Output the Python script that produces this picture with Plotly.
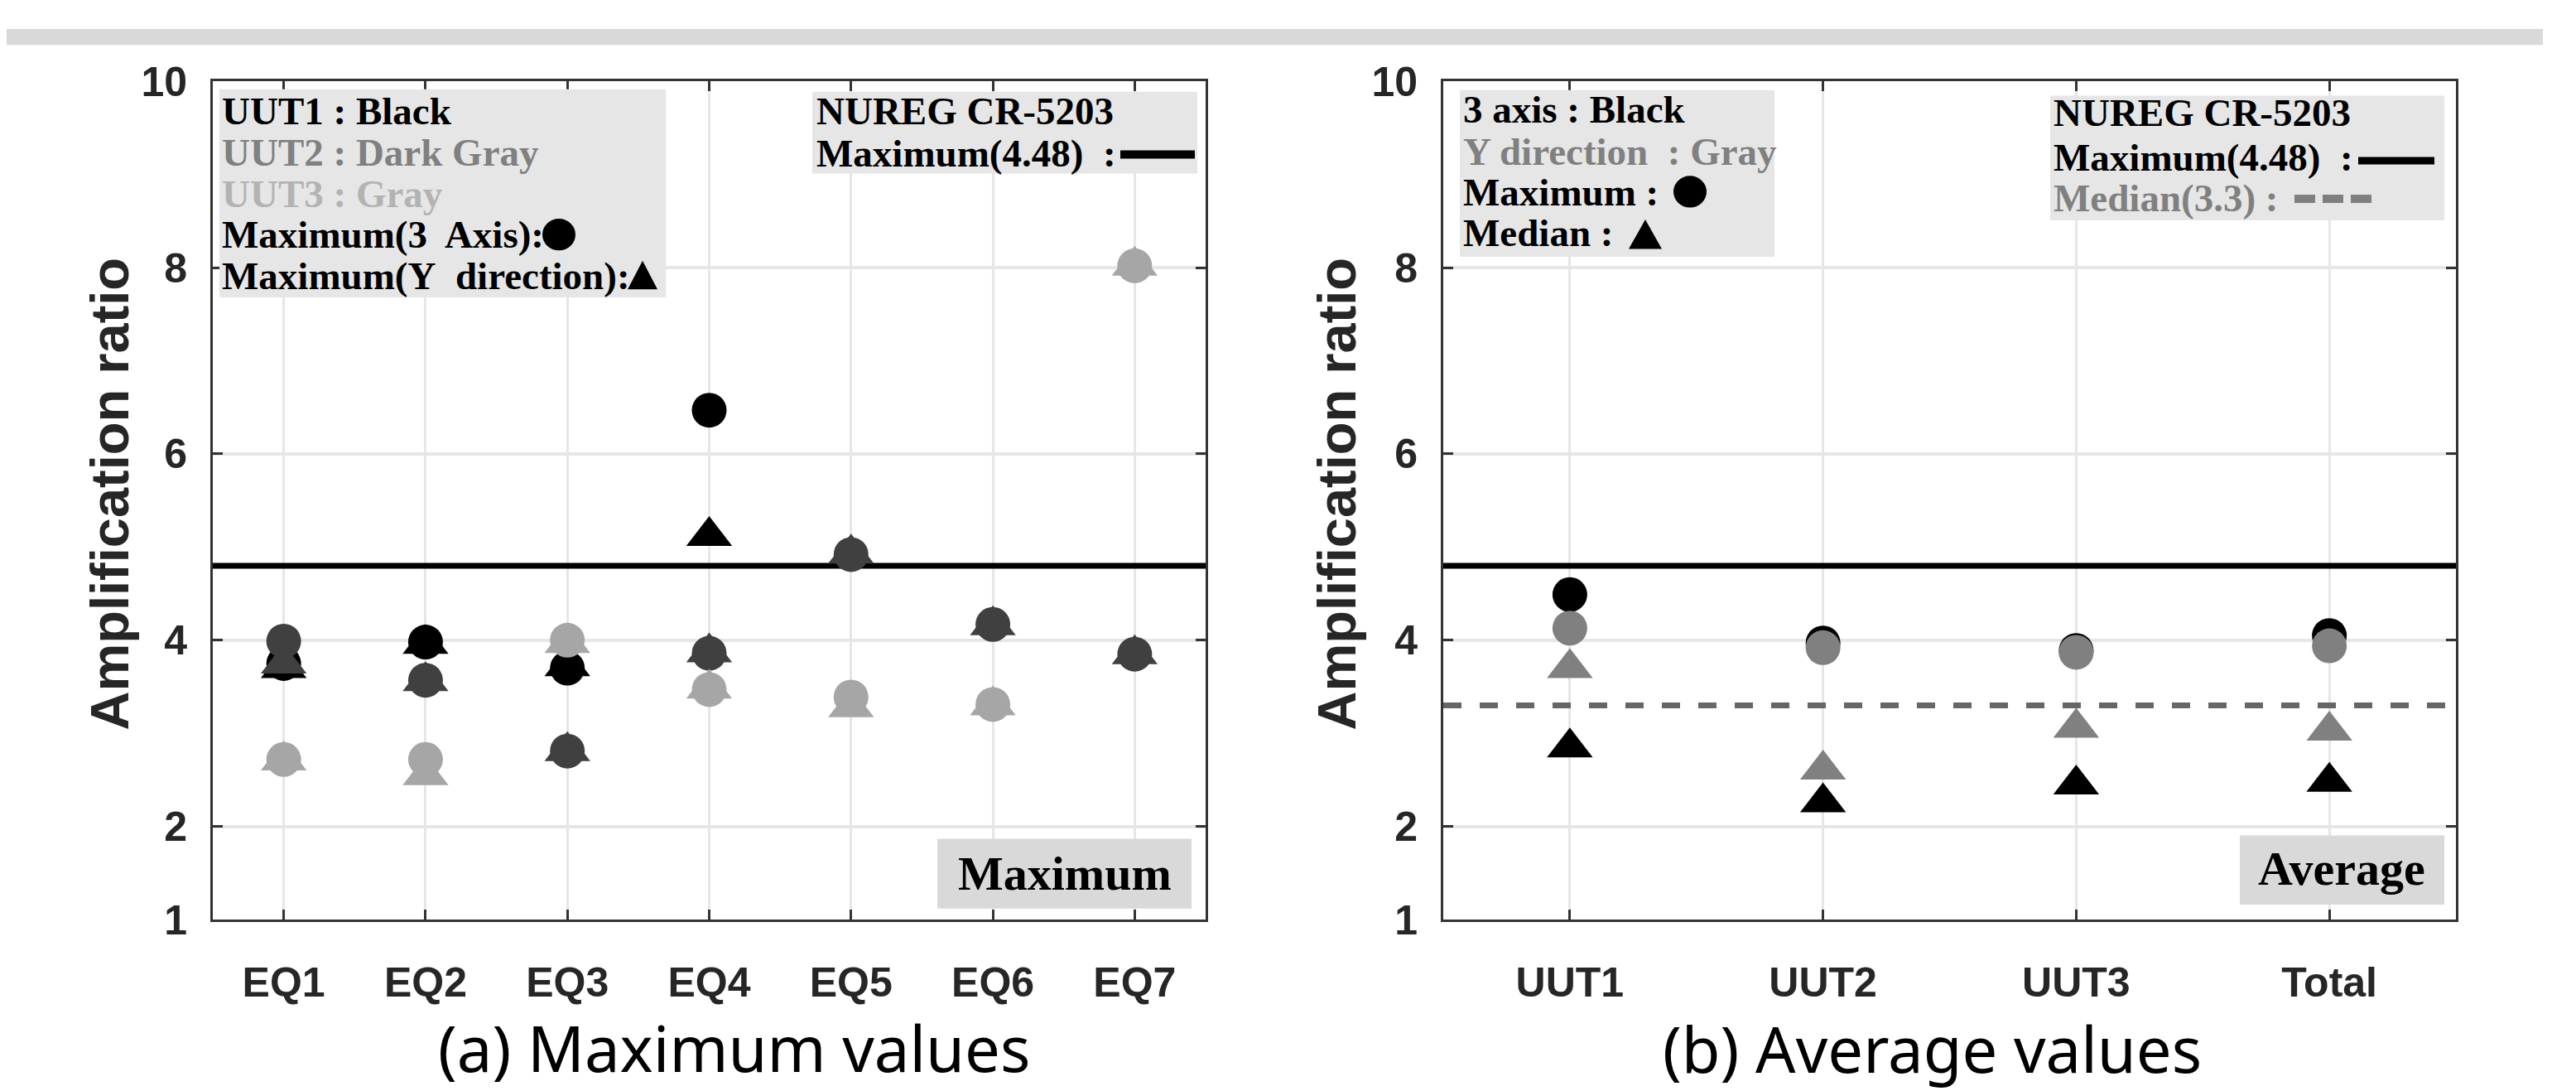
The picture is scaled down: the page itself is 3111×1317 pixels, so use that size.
import plotly.graph_objects as go

W, H = 3111, 1317

# ---------------- data ----------------
eq_labels = ["EQ1", "EQ2", "EQ3", "EQ4", "EQ5", "EQ6", "EQ7"]
# Maximum (3 axis) -> circles, Maximum (Y direction) -> triangles
uut1_max3 = [3.75, 3.98, 3.70, 6.47, None, None, None]
uut1_maxy = [3.70, 3.96, 3.72, 5.12, None, None, None]
uut2_max3 = [3.99, 3.57, 2.81, 3.86, 4.92, 4.17, 3.85]
uut2_maxy = [3.75, 3.56, 2.81, 3.87, 4.93, 4.16, 3.85]
uut3_max3 = [2.72, 2.72, 4.00, 3.47, 3.39, 3.31, 8.02]
uut3_maxy = [2.71, 2.55, 3.97, 3.48, 3.28, 3.30, 8.02]

avg_labels = ["UUT1", "UUT2", "UUT3", "Total"]
avg3_max = [4.49, 3.97, 3.89, 4.05]      # 3 axis, maximum (black circle)
avg3_med = [2.85, 2.26, 2.45, 2.48]      # 3 axis, median (black triangle)
avgy_max = [4.13, 3.92, 3.87, 3.94]      # Y direction, maximum (gray circle)
avgy_med = [3.70, 2.61, 3.06, 3.03]      # Y direction, median (gray triangle)

nureg_max_line = 4.80
nureg_median_line = 3.30
y_ticks = [1, 2, 4, 6, 8, 10]

# ---------------- helpers ----------------
def fx(p):
    return p / W

def fy(p):
    return 1 - p / H

BLACK = "#000000"
DGRAY = "#404040"
LGRAY = "#a6a6a6"
MGRAY = "#808080"

fig = go.Figure()

xa = list(range(1, len(eq_labels) + 1))
xb = list(range(1, len(avg_labels) + 1))

# reference lines (left)
fig.add_trace(go.Scatter(x=[0.5, len(eq_labels) + 0.5], y=[nureg_max_line] * 2, mode="lines",
                         line=dict(color=BLACK, width=7), xaxis="x", yaxis="y", showlegend=False))

CS, TS = 42, 48
def add_pts(x, y, color, sym, size, xaxis, yaxis):
    fig.add_trace(go.Scatter(x=x, y=y, mode="markers", xaxis=xaxis, yaxis=yaxis, showlegend=False,
                             marker=dict(color=color, symbol=sym, size=size, line=dict(width=0))))

add_pts(xa, uut1_max3, BLACK, "circle", CS, "x", "y")
add_pts(xa, uut1_maxy, BLACK, "triangle-up", TS, "x", "y")
add_pts(xa, uut2_max3, DGRAY, "circle", CS, "x", "y")
add_pts(xa, uut2_maxy, DGRAY, "triangle-up", TS, "x", "y")
add_pts(xa, uut3_max3, LGRAY, "circle", CS, "x", "y")
add_pts(xa, uut3_maxy, LGRAY, "triangle-up", TS, "x", "y")

# reference lines (right)
fig.add_trace(go.Scatter(x=[0.5, len(avg_labels) + 0.5], y=[nureg_max_line] * 2, mode="lines",
                         line=dict(color=BLACK, width=7), xaxis="x2", yaxis="y2", showlegend=False))
fig.add_trace(go.Scatter(x=[0.5, len(avg_labels) + 0.5], y=[nureg_median_line] * 2, mode="lines",
                         line=dict(color="#666666", width=7, dash="22px,22px"),
                         xaxis="x2", yaxis="y2", showlegend=False))

add_pts(xb, avg3_max, BLACK, "circle", CS, "x2", "y2")
add_pts(xb, avgy_max, MGRAY, "circle", CS, "x2", "y2")
add_pts(xb, avg3_med, BLACK, "triangle-up", TS, "x2", "y2")
add_pts(xb, avgy_med, MGRAY, "triangle-up", TS, "x2", "y2")

tickfont = dict(family="Liberation Sans, Arial", size=50, color="#262626", weight="bold")
common_x = dict(showline=True, linecolor="#333333", linewidth=3, mirror="ticks",
                ticks="inside", ticklen=12, tickwidth=3, tickcolor="#333333",
                showgrid=True, gridcolor="#e6e6e6", gridwidth=3, zeroline=False,
                tickfont=tickfont, ticklabelstandoff=30)
common_y = dict(showline=True, linecolor="#333333", linewidth=3, mirror="ticks",
                ticks="inside", ticklen=12, tickwidth=3, tickcolor="#333333",
                showgrid=True, gridcolor="#e6e6e6", gridwidth=4, zeroline=False,
                tickfont=tickfont, range=[1, 10], tickvals=y_ticks,
                ticktext=[str(t) for t in y_ticks], ticklabelstandoff=18)

ytop, ybot = fy(66), fy(1122)
fig.update_layout(
    width=W, height=H, margin=dict(l=0, r=0, t=0, b=0),
    paper_bgcolor="white", plot_bgcolor="white", showlegend=False,
    xaxis=dict(domain=[fx(249), fx(1448)], range=[0.5, len(eq_labels) + 0.5],
               tickvals=xa, ticktext=eq_labels, anchor="y", **common_x),
    yaxis=dict(domain=[ybot, ytop], anchor="x", **common_y),
    xaxis2=dict(domain=[fx(1735), fx(2958)], range=[0.5, len(avg_labels) + 0.5],
                tickvals=xb, ticktext=avg_labels, anchor="y2", **common_x),
    yaxis2=dict(domain=[ybot, ytop], anchor="x2", **common_y),
)

shapes = []
anns = []

def rect(x0, y0, x1, y1, color):
    shapes.append(dict(type="rect", xref="paper", yref="paper", x0=fx(x0), x1=fx(x1),
                       y0=fy(y1), y1=fy(y0), fillcolor=color, line=dict(width=0), layer="above"))

def text(x, y, s, size=47, color="#000000", family="Liberation Serif, Times New Roman",
         xanchor="left", bold=True):
    anns.append(dict(xref="paper", yref="paper", x=fx(x), y=fy(y), text=("<b>%s</b>" % s) if bold else s,
                     showarrow=False, xanchor=xanchor, yanchor="middle",
                     font=dict(family=family, size=size, color=color)))

def circ(cx, cy, d):
    shapes.append(dict(type="circle", xref="paper", yref="paper", x0=fx(cx - d / 2), x1=fx(cx + d / 2),
                       y0=fy(cy + d / 2), y1=fy(cy - d / 2), fillcolor="#000000", line=dict(width=0),
                       layer="above"))

def tri(cx, ytip, ybase, w):
    p = "M %f %f L %f %f L %f %f Z" % (fx(cx), fy(ytip), fx(cx - w / 2), fy(ybase), fx(cx + w / 2), fy(ybase))
    shapes.append(dict(type="path", xref="paper", yref="paper", path=p, fillcolor="#000000",
                       line=dict(width=0), layer="above"))

def hline(x0, x1, y, color, width, dash="solid"):
    shapes.append(dict(type="line", xref="paper", yref="paper", x0=fx(x0), x1=fx(x1), y0=fy(y), y1=fy(y),
                       line=dict(color=color, width=width, dash=dash), layer="above"))

# top band
rect(0, 0, 3063, 20, "#d9d9d9")

# ----- left panel legend boxes -----
rect(257, 76, 796, 338, "#e6e6e6")
text(258, 103, "UUT1 : Black")
text(258, 156, "UUT2 : Dark Gray", color="#808080")
text(258, 208, "UUT3 : Gray", color="#b3b3b3")
text(258, 259, "Maximum(3\u00a0 Axis):")
text(258, 311, "Maximum(Y\u00a0 direction):")
circ(667, 259, 40)
tri(768, 292, 328, 36)

rect(973, 79, 1438, 182, "#e6e6e6")
text(976, 103, "NUREG CR-5203")
text(976, 157, "Maximum(4.48)\u00a0 :")
hline(1345, 1435, 158, "#000000", 10)

rect(1124, 1020, 1431, 1108, "#d9d9d9")
text(1278, 1064, "Maximum", size=58, xanchor="center")

# ----- right panel legend boxes -----
rect(1755, 77, 2135, 287, "#e6e6e6")
text(1757, 101, "3 axis : Black")
text(1757, 154, "Y direction\u00a0 : Gray", color="#808080")
text(1757, 206, "Maximum :")
text(1757, 257, "Median :")
circ(2033, 205, 40)
tri(1979, 240, 277, 40)

rect(2468, 84, 2944, 241, "#e6e6e6")
text(2470, 105, "NUREG CR-5203")
text(2470, 162, "Maximum(4.48)\u00a0 :")
text(2470, 213, "Median(3.3) :", color="#808080")
hline(2840, 2932, 166, "#000000", 9)
hline(2763, 2856, 214, "#7f7f7f", 10, dash="25px,9px")

rect(2697, 1016, 2944, 1103, "#d9d9d9")
text(2820, 1058, "Average", size=58, xanchor="center")

# ----- axis titles -----
for xc in (125, 1607):
    anns.append(dict(xref="paper", yref="paper", x=fx(xc), y=fy(586), text="<b>Amplification ratio</b>",
                     textangle=-90, showarrow=False, xanchor="center", yanchor="middle",
                     font=dict(family="Liberation Sans, Arial", size=65, color="#262626")))

# ----- captions -----
text(878, 1283, "(a) Maximum values", size=76, family="Noto Sans", xanchor="center", bold=False)
text(2325, 1284, "(b) Average values", size=76, family="Noto Sans", xanchor="center", bold=False)

fig.update_layout(shapes=shapes, annotations=anns)
fig.write_html("out.html")
